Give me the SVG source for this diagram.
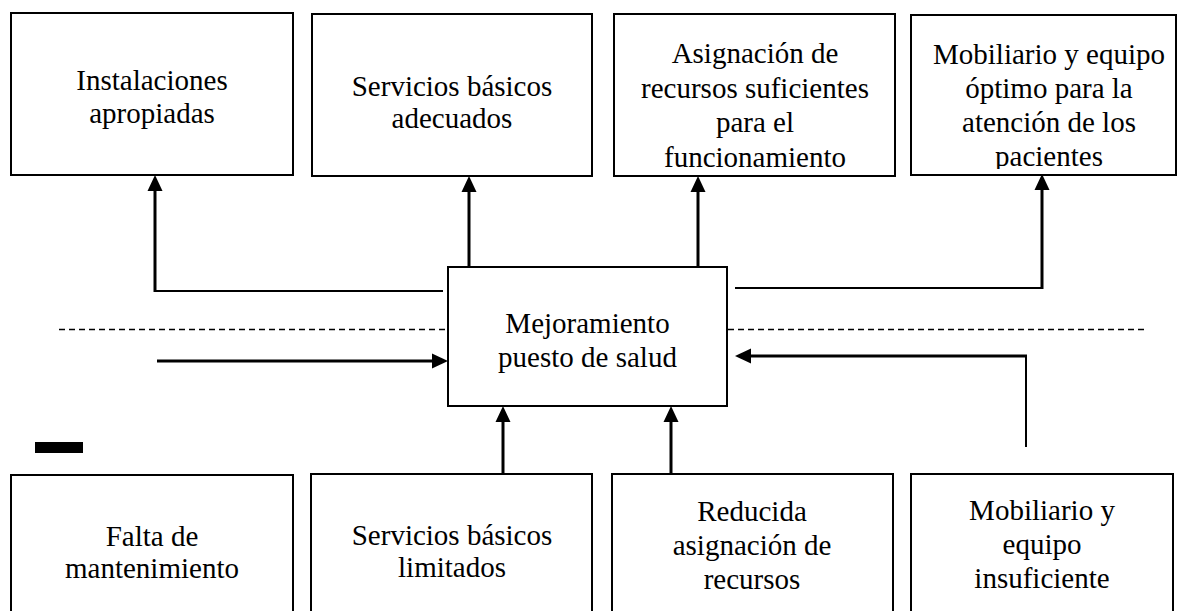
<svg xmlns="http://www.w3.org/2000/svg" width="1178" height="611" viewBox="0 0 1178 611">
<defs>
<style>
.box{fill:#fff;stroke:#000;stroke-width:2}
.t{font-family:"Liberation Serif","Times New Roman",serif;font-size:29px;fill:#000;text-anchor:middle}
.ar{fill:none;stroke:#000;stroke-width:3;marker-end:url(#ah)}
.ln{fill:none;stroke:#000;stroke-width:2}
.dash{fill:none;stroke:#000;stroke-width:1.3;stroke-dasharray:6 4}
</style>
<marker id="ah" markerUnits="userSpaceOnUse" markerWidth="16" markerHeight="16" refX="0" refY="8" orient="auto" overflow="visible">
<path d="M0,0.5 L16,8 L0,15.5 z" fill="#000"/>
</marker>
<clipPath id="clip4"><rect x="900" y="0" width="278" height="169"/></clipPath>
</defs>
<rect width="1178" height="611" fill="#fff"/>

<g id="connectors">
<line class="ln" x1="443" y1="291" x2="154" y2="291"/>
<line class="ar" x1="155" y1="292" x2="155" y2="191"/>
<line class="ar" x1="469" y1="267" x2="469" y2="192"/>
<line class="ar" x1="698" y1="267" x2="698" y2="192"/>
<line class="ln" x1="735" y1="288" x2="1043" y2="288"/>
<line class="ar" x1="1042" y1="289" x2="1042" y2="190"/>
<line class="dash" x1="59" y1="329.5" x2="447" y2="329.5"/>
<line class="dash" x1="728" y1="329.5" x2="1148" y2="329.5"/>
<line class="ar" x1="157" y1="361" x2="432" y2="361"/>
<line class="ln" x1="1026" y1="447" x2="1026" y2="355"/>
<line class="ar" x1="1027" y1="356" x2="751" y2="356"/>
<line class="ar" x1="503" y1="474" x2="503" y2="422"/>
<line class="ar" x1="671" y1="474" x2="671" y2="422"/>
</g>

<g id="top1">
<rect class="box" x="11" y="13" width="282" height="162"/>
<text class="t" x="152" y="90">Instalaciones</text>
<text class="t" x="152" y="123">apropiadas</text>
</g>
<g id="top2">
<rect class="box" x="312" y="14" width="280" height="162"/>
<text class="t" x="452" y="96">Servicios básicos</text>
<text class="t" x="452" y="128">adecuados</text>
</g>
<g id="top3">
<rect class="box" x="614" y="14" width="281" height="162"/>
<text class="t" x="755" y="63">Asignación de</text>
<text class="t" x="755" y="98">recursos suficientes</text>
<text class="t" x="755" y="132">para el</text>
<text class="t" x="755" y="167">funcionamiento</text>
</g>
<g id="top4">
<rect class="box" x="911" y="15" width="265" height="160"/>
<g clip-path="url(#clip4)">
<text class="t" x="1049" y="64">Mobiliario y equipo</text>
<text class="t" x="1049" y="98">óptimo para la</text>
<text class="t" x="1049" y="132">atención de los</text>
<text class="t" x="1049" y="166">pacientes</text>
</g>
</g>

<g id="center">
<rect class="box" x="448" y="267" width="279" height="139"/>
<text class="t" x="587.5" y="333">Mejoramiento</text>
<text class="t" x="587.5" y="367">puesto de salud</text>
</g>

<rect id="bar" x="35" y="442" width="48" height="11" fill="#000"/>

<g id="bottom1">
<rect class="box" x="11" y="475" width="282" height="160"/>
<text class="t" x="152" y="546">Falta de</text>
<text class="t" x="152" y="578">mantenimiento</text>
</g>
<g id="bottom2">
<rect class="box" x="311" y="474" width="281" height="160"/>
<text class="t" x="452" y="545">Servicios básicos</text>
<text class="t" x="452" y="577">limitados</text>
</g>
<g id="bottom3">
<rect class="box" x="612" y="474" width="281" height="160"/>
<text class="t" x="752" y="521">Reducida</text>
<text class="t" x="752" y="555">asignación de</text>
<text class="t" x="752" y="589">recursos</text>
</g>
<g id="bottom4">
<rect class="box" x="911" y="474" width="262" height="160"/>
<text class="t" x="1042" y="520">Mobiliario y</text>
<text class="t" x="1042" y="554">equipo</text>
<text class="t" x="1042" y="588">insuficiente</text>
</g>
</svg>
